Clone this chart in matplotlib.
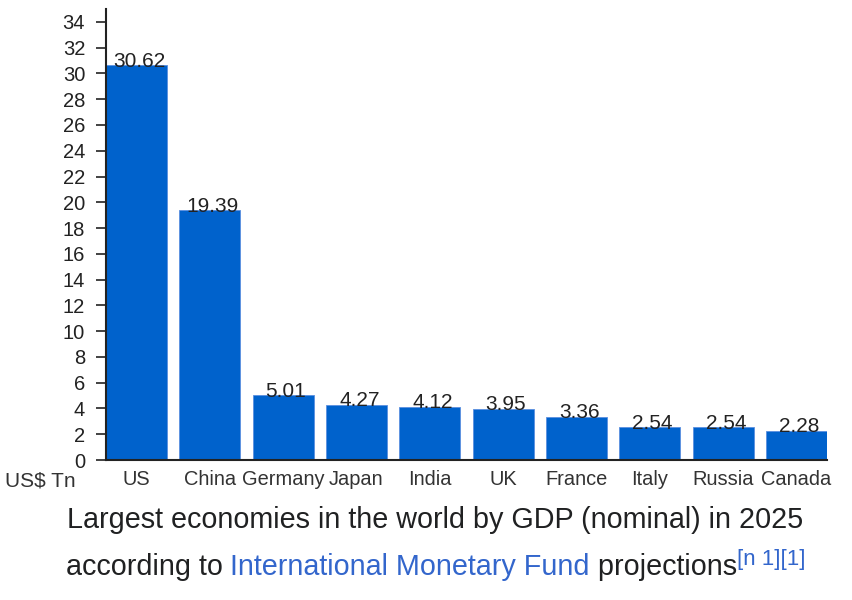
import matplotlib
matplotlib.use("Agg")
import matplotlib.pyplot as plt

countries = ["US", "China", "Germany", "Japan", "India", "UK", "France", "Italy", "Russia", "Canada"]
gdp = [30.62, 19.39, 5.01, 4.27, 4.12, 3.95, 3.36, 2.54, 2.54, 2.28]
yticks = list(range(0, 35, 2))
unit_label = "US$ Tn"
caption1 = "Largest economies in the world by GDP (nominal) in 2025"
caption2 = [("according to ", "#202122", False), ("International Monetary Fund", "#3366cc", False),
            (" projections", "#202122", False), ("[n 1][1]", "#3366cc", True)]

plt.rcParams['font.family'] = ['Liberation Sans', 'DejaVu Sans']

W, H = 852, 600
fig = plt.figure(figsize=(W/100, H/100), dpi=100)
ax = fig.add_axes([106/W, 1-460/H, (827-106)/W, (460-9)/H])

bar_color = "#0062cc"
x = list(range(len(countries)))
ax.bar(x, gdp, width=0.83, color=bar_color, edgecolor="#5a8fe0", linewidth=0.6)
ax.set_xlim(-0.415, len(countries) - 1 + 0.415)
ax.set_ylim(0, 35)
ax.set_yticks(yticks)
ax.set_xticks(x)
ax.set_xticklabels(countries)
for s in ["top", "right"]:
    ax.spines[s].set_visible(False)
for s in ["left", "bottom"]:
    ax.spines[s].set_color("#222222")
    ax.spines[s].set_linewidth(1.5)
ax.tick_params(axis='y', length=7.5, width=1.2, color="#222222", labelsize=14.5, labelcolor="#222222", pad=7.5)
ax.tick_params(axis='x', length=0, labelsize=14.4, labelcolor="#333333", pad=7.5)

for xi, v in zip(x, gdp):
    ax.annotate(f"{v:.2f}", (xi, v), xytext=(2, -1), textcoords="offset points",
                ha="center", va="baseline", fontsize=15, color="#222222")

fig.text(40/W, 1-481/H, unit_label, ha="center", va="center", fontsize=15, color="#333333")

fig.text(435/W, 1-528/H, caption1, ha="center", va="baseline", fontsize=20.7, color="#202122")

# second caption line built from pieces
fig.canvas.draw()
r = fig.canvas.get_renderer()
texts = []
for s, c, sup in caption2:
    fs = 16 if sup else 20.7
    yb = 1-575/H + (10/H if sup else 0)
    t = fig.text(0, yb, s, ha="left", va="baseline", fontsize=fs, color=c)
    texts.append(t)
widths = [t.get_window_extent(renderer=r).width for t in texts]
total = sum(widths)
cur = 435.5 - total/2
for t, w in zip(texts, widths):
    t.set_x(cur/W)
    cur += w

fig.savefig("out.png", dpi=100)
